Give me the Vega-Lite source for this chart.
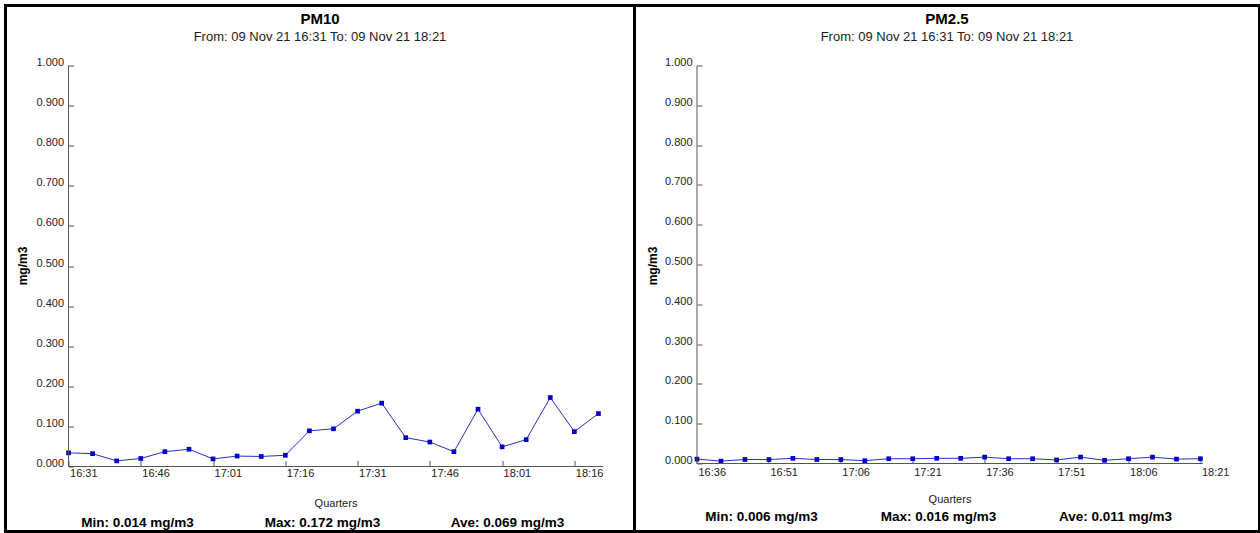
{
  "$schema": "https://vega.github.io/schema/vega-lite/v6.json",
  "background": "white",
  "padding": {"left": 3.5, "top": 3.5, "right": 0, "bottom": 0},
  "spacing": 0,
  "bounds": "flush",
  "datasets": {
    "pm10": [
      {"t": "2021-11-09T16:31:00", "v": 0.034},
      {"t": "2021-11-09T16:36:00", "v": 0.032},
      {"t": "2021-11-09T16:41:00", "v": 0.014},
      {"t": "2021-11-09T16:46:00", "v": 0.020},
      {"t": "2021-11-09T16:51:00", "v": 0.037},
      {"t": "2021-11-09T16:56:00", "v": 0.043},
      {"t": "2021-11-09T17:01:00", "v": 0.019},
      {"t": "2021-11-09T17:06:00", "v": 0.026},
      {"t": "2021-11-09T17:11:00", "v": 0.025},
      {"t": "2021-11-09T17:16:00", "v": 0.028},
      {"t": "2021-11-09T17:21:00", "v": 0.089},
      {"t": "2021-11-09T17:26:00", "v": 0.094},
      {"t": "2021-11-09T17:31:00", "v": 0.138},
      {"t": "2021-11-09T17:36:00", "v": 0.158},
      {"t": "2021-11-09T17:41:00", "v": 0.072},
      {"t": "2021-11-09T17:46:00", "v": 0.061},
      {"t": "2021-11-09T17:51:00", "v": 0.037},
      {"t": "2021-11-09T17:56:00", "v": 0.143},
      {"t": "2021-11-09T18:01:00", "v": 0.049},
      {"t": "2021-11-09T18:06:00", "v": 0.067},
      {"t": "2021-11-09T18:11:00", "v": 0.172},
      {"t": "2021-11-09T18:16:00", "v": 0.087},
      {"t": "2021-11-09T18:21:00", "v": 0.132}
    ],
    "pm25": [
      {"t": "2021-11-09T16:36:00", "v": 0.011},
      {"t": "2021-11-09T16:41:00", "v": 0.006},
      {"t": "2021-11-09T16:46:00", "v": 0.010},
      {"t": "2021-11-09T16:51:00", "v": 0.010},
      {"t": "2021-11-09T16:56:00", "v": 0.013},
      {"t": "2021-11-09T17:01:00", "v": 0.010},
      {"t": "2021-11-09T17:06:00", "v": 0.010},
      {"t": "2021-11-09T17:11:00", "v": 0.007},
      {"t": "2021-11-09T17:16:00", "v": 0.012},
      {"t": "2021-11-09T17:21:00", "v": 0.012},
      {"t": "2021-11-09T17:26:00", "v": 0.013},
      {"t": "2021-11-09T17:31:00", "v": 0.013},
      {"t": "2021-11-09T17:36:00", "v": 0.016},
      {"t": "2021-11-09T17:41:00", "v": 0.012},
      {"t": "2021-11-09T17:46:00", "v": 0.012},
      {"t": "2021-11-09T17:51:00", "v": 0.009},
      {"t": "2021-11-09T17:56:00", "v": 0.016},
      {"t": "2021-11-09T18:01:00", "v": 0.008},
      {"t": "2021-11-09T18:06:00", "v": 0.012},
      {"t": "2021-11-09T18:11:00", "v": 0.016},
      {"t": "2021-11-09T18:16:00", "v": 0.011},
      {"t": "2021-11-09T18:21:00", "v": 0.012}
    ],
    "pm10stats": [
      {"stat": "Min", "label": "Min: 0.014 mg/m3"},
      {"stat": "Max", "label": "Max: 0.172 mg/m3"},
      {"stat": "Ave", "label": "Ave: 0.069 mg/m3"}
    ],
    "pm25stats": [
      {"stat": "Min", "label": "Min: 0.006 mg/m3"},
      {"stat": "Max", "label": "Max: 0.016 mg/m3"},
      {"stat": "Ave", "label": "Ave: 0.011 mg/m3"}
    ]
  },
  "hconcat": [
    {
      "width": 629,
      "height": 526,
      "title": {
        "text": "PM10",
        "subtitle": "From: 09 Nov 21 16:31 To: 09 Nov 21 18:21",
        "anchor": "middle",
        "frame": "group",
        "offset": -38,
        "font": "Liberation Sans",
        "fontSize": 15,
        "fontWeight": "bold",
        "color": "#000000",
        "subtitleFont": "Liberation Sans",
        "subtitleFontSize": 13,
        "subtitleColor": "#222222",
        "subtitlePadding": 4
      },
      "layer": [
        {
          "layer": [
            {
              "data": {"name": "pm10"},
              "mark": {"type": "line", "color": "#2b2bcc", "strokeWidth": 1},
              "encoding": {
                "x": {
                  "field": "t", "type": "temporal",
                  "scale": {"domain": [
                    {"year": 2021, "month": 11, "date": 9, "hours": 16, "minutes": 17, "seconds": 55},
                    {"year": 2021, "month": 11, "date": 9, "hours": 18, "minutes": 28, "seconds": 29}
                  ]},
                  "axis": {
                    "title": "Quarters", "titleFontSize": 11, "titleFontWeight": "normal", "titleColor": "#222222",
                    "titleX": 330, "titleY": 37, "titleBaseline": "middle", "titleAlign": "center", "titleAngle": 0,
                    "offset": -65, "domain": false, "grid": false, "tickSize": -6, "tickColor": "#555555",
                    "labelAlign": "left", "labelBaseline": "top", "labelPadding": 7, "labelOffset": 1,
                    "labelFlush": false, "labelOverlap": false, "format": "%H:%M",
                    "values": [
                      {"year": 2021, "month": 11, "date": 9, "hours": 16, "minutes": 31},
                      {"year": 2021, "month": 11, "date": 9, "hours": 16, "minutes": 46},
                      {"year": 2021, "month": 11, "date": 9, "hours": 17, "minutes": 1},
                      {"year": 2021, "month": 11, "date": 9, "hours": 17, "minutes": 16},
                      {"year": 2021, "month": 11, "date": 9, "hours": 17, "minutes": 31},
                      {"year": 2021, "month": 11, "date": 9, "hours": 17, "minutes": 46},
                      {"year": 2021, "month": 11, "date": 9, "hours": 18, "minutes": 1},
                      {"year": 2021, "month": 11, "date": 9, "hours": 18, "minutes": 16}
                    ]
                  }
                },
                "y": {
                  "field": "v", "type": "quantitative",
                  "scale": {"domain": [-0.16209, 1.14963], "nice": false, "zero": false},
                  "axis": {
                    "title": "mg/m3", "titleFontSize": 12, "titleFontWeight": "bold", "titleColor": "#000000",
                    "titleX": -46, "titleY": 260, "titleBaseline": "middle", "titleAlign": "center", "titleAngle": -90,
                    "offset": -63, "domain": false, "grid": false, "tickSize": -5, "tickColor": "#555555",
                    "labelPadding": 10, "labelBaseline": "alphabetic", "labelFlush": false, "labelOverlap": false,
                    "format": ".3f",
                    "values": [0, 0.1, 0.2, 0.3, 0.4, 0.5, 0.6, 0.7, 0.8, 0.9, 1.0]
                  }
                }
              }
            },
            {
              "data": {"name": "pm10"},
              "mark": {"type": "square", "color": "#0000cc", "size": 22, "opacity": 1},
              "encoding": {
                "x": {"field": "t", "type": "temporal"},
                "y": {"field": "v", "type": "quantitative"}
              }
            },
            {
              "data": {"values": [{}]},
              "mark": {"type": "rule", "color": "#555555", "strokeWidth": 1},
              "encoding": {
                "x": {"datum": {"year": 2021, "month": 11, "date": 9, "hours": 16, "minutes": 31}, "type": "temporal"},
                "y": {"datum": 0, "type": "quantitative"},
                "y2": {"datum": 1}
              }
            },
            {
              "data": {"values": [{}]},
              "mark": {"type": "rule", "color": "#555555", "strokeWidth": 1},
              "encoding": {
                "x": {"datum": {"year": 2021, "month": 11, "date": 9, "hours": 16, "minutes": 31}, "type": "temporal"},
                "x2": {"datum": {"year": 2021, "month": 11, "date": 9, "hours": 18, "minutes": 22}},
                "y": {"datum": 0, "type": "quantitative"}
              }
            }
          ]
        },
        {
          "data": {"name": "pm10stats"},
          "mark": {"type": "text", "font": "Liberation Sans", "fontWeight": "bold", "fontSize": 13.5, "color": "#000000", "align": "center", "baseline": "middle"},
          "encoding": {
            "x": {"field": "stat", "type": "nominal", "scale": {"type": "point", "domain": ["Min", "Max", "Ave"], "padding": 0.7, "align": 0.51}, "axis": null},
            "y": {"datum": -0.14, "type": "quantitative"},
            "text": {"field": "label"}
          }
        }
      ],
      "resolve": {"scale": {"x": "independent"}}
    },
    {
      "width": 625,
      "height": 526,
      "title": {
        "text": "PM2.5",
        "subtitle": "From: 09 Nov 21 16:31 To: 09 Nov 21 18:21",
        "anchor": "middle",
        "frame": "group",
        "offset": -38,
        "font": "Liberation Sans",
        "fontSize": 15,
        "fontWeight": "bold",
        "color": "#000000",
        "subtitleFont": "Liberation Sans",
        "subtitleFontSize": 13,
        "subtitleColor": "#222222",
        "subtitlePadding": 4
      },
      "layer": [
        {
          "layer": [
            {
              "data": {"name": "pm25"},
              "mark": {"type": "line", "color": "#2b2bcc", "strokeWidth": 1},
              "encoding": {
                "x": {
                  "field": "t", "type": "temporal",
                  "scale": {"domain": [
                    {"year": 2021, "month": 11, "date": 9, "hours": 16, "minutes": 22, "seconds": 58},
                    {"year": 2021, "month": 11, "date": 9, "hours": 18, "minutes": 33, "seconds": 19}
                  ]},
                  "axis": {
                    "title": "Quarters", "titleFontSize": 11, "titleFontWeight": "normal", "titleColor": "#222222",
                    "titleX": 315, "titleY": 36, "titleBaseline": "middle", "titleAlign": "center", "titleAngle": 0,
                    "offset": -68, "domain": false, "grid": false, "tickSize": -6, "tickColor": "#555555",
                    "labelAlign": "left", "labelBaseline": "top", "labelPadding": 9, "labelOffset": 1,
                    "labelFlush": false, "labelOverlap": false, "format": "%H:%M",
                    "values": [
                      {"year": 2021, "month": 11, "date": 9, "hours": 16, "minutes": 36},
                      {"year": 2021, "month": 11, "date": 9, "hours": 16, "minutes": 51},
                      {"year": 2021, "month": 11, "date": 9, "hours": 17, "minutes": 6},
                      {"year": 2021, "month": 11, "date": 9, "hours": 17, "minutes": 21},
                      {"year": 2021, "month": 11, "date": 9, "hours": 17, "minutes": 36},
                      {"year": 2021, "month": 11, "date": 9, "hours": 17, "minutes": 51},
                      {"year": 2021, "month": 11, "date": 9, "hours": 18, "minutes": 6},
                      {"year": 2021, "month": 11, "date": 9, "hours": 18, "minutes": 21}
                    ]
                  }
                },
                "y": {
                  "field": "v", "type": "quantitative",
                  "scale": {"domain": [-0.17085, 1.15075], "nice": false, "zero": false},
                  "axis": {
                    "title": "mg/m3", "titleFontSize": 12, "titleFontWeight": "bold", "titleColor": "#000000",
                    "titleX": -45, "titleY": 260, "titleBaseline": "middle", "titleAlign": "center", "titleAngle": -90,
                    "offset": -62.5, "domain": false, "grid": false, "tickSize": -5, "tickColor": "#555555",
                    "labelPadding": 10, "labelBaseline": "alphabetic", "labelFlush": false, "labelOverlap": false,
                    "format": ".3f",
                    "values": [0, 0.1, 0.2, 0.3, 0.4, 0.5, 0.6, 0.7, 0.8, 0.9, 1.0]
                  }
                }
              }
            },
            {
              "data": {"name": "pm25"},
              "mark": {"type": "square", "color": "#0000cc", "size": 22, "opacity": 1},
              "encoding": {
                "x": {"field": "t", "type": "temporal"},
                "y": {"field": "v", "type": "quantitative"}
              }
            },
            {
              "data": {"values": [{}]},
              "mark": {"type": "rule", "color": "#555555", "strokeWidth": 1},
              "encoding": {
                "x": {"datum": {"year": 2021, "month": 11, "date": 9, "hours": 16, "minutes": 36}, "type": "temporal"},
                "y": {"datum": 0, "type": "quantitative"},
                "y2": {"datum": 1}
              }
            },
            {
              "data": {"values": [{}]},
              "mark": {"type": "rule", "color": "#555555", "strokeWidth": 1},
              "encoding": {
                "x": {"datum": {"year": 2021, "month": 11, "date": 9, "hours": 16, "minutes": 36}, "type": "temporal"},
                "x2": {"datum": {"year": 2021, "month": 11, "date": 9, "hours": 18, "minutes": 21, "seconds": 30}},
                "y": {"datum": 0, "type": "quantitative"}
              }
            }
          ]
        },
        {
          "data": {"name": "pm25stats"},
          "mark": {"type": "text", "font": "Liberation Sans", "fontWeight": "bold", "fontSize": 13.5, "color": "#000000", "align": "center", "baseline": "middle"},
          "encoding": {
            "x": {"field": "stat", "type": "nominal", "scale": {"type": "point", "domain": ["Min", "Max", "Ave"], "padding": 0.7655, "align": 0.4686}, "axis": null},
            "y": {"datum": -0.135, "type": "quantitative"},
            "text": {"field": "label"}
          }
        }
      ],
      "resolve": {"scale": {"x": "independent"}}
    }
  ],
  "config": {
    "view": {"stroke": "#000000", "strokeWidth": 3},
    "font": "Liberation Sans",
    "axis": {"labelFont": "Liberation Sans", "labelFontSize": 11, "labelColor": "#222222", "titleFont": "Liberation Sans"}
  }
}
